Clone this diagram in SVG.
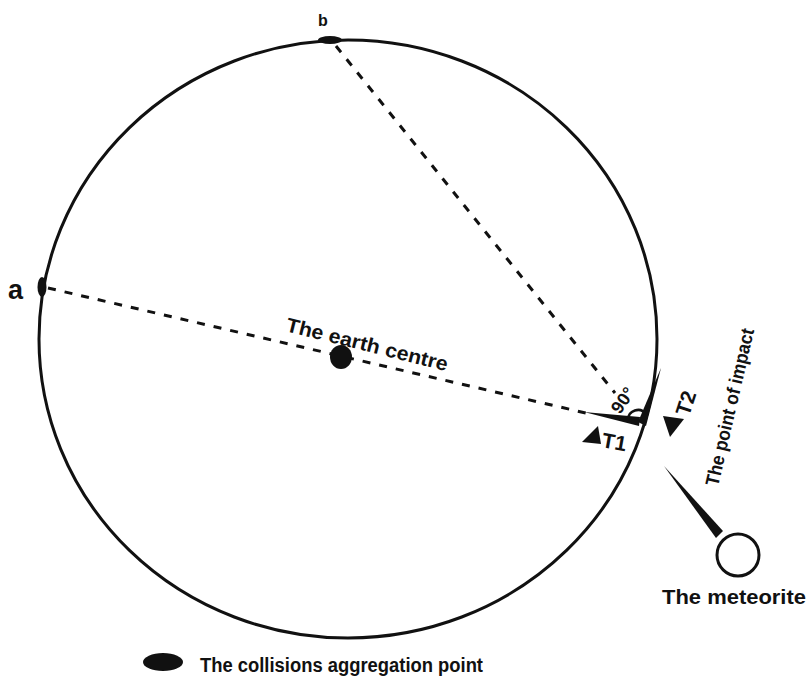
<svg xmlns="http://www.w3.org/2000/svg" width="807" height="679" viewBox="0 0 807 679">
<style>
text{font-family:"Liberation Sans",Arial,sans-serif;font-weight:bold;fill:#111}
.dash{stroke:#111;stroke-width:3;stroke-dasharray:8,9;fill:none}
.blk{fill:#111}
</style>
<rect width="807" height="679" fill="#fff"/>
<g id="earth">
<ellipse cx="348" cy="339" rx="309" ry="299" fill="none" stroke="#111" stroke-width="3"/>
</g>
<g id="connectors">
<line class="dash" x1="48" y1="288" x2="590" y2="414"/>
<line class="dash" x1="336" y1="46" x2="615" y2="393"/>
<polygon class="blk" points="584,412 640,417 639,426"/>
<polygon class="blk" points="661,368 646,426 638,422"/>
<path d="M628 420 A10 10 0 0 1 646 414" fill="none" stroke="#111" stroke-width="2.5"/>
<polygon class="blk" points="664,466 723,531 716,538"/>
</g>
<g id="point-a">
<ellipse cx="42" cy="287" rx="4.5" ry="10" class="blk"/>
<text x="8" y="299" font-size="27">a</text>
</g>
<g id="point-b">
<ellipse cx="330" cy="40" rx="12" ry="4" class="blk"/>
<text x="318" y="26" font-size="16">b</text>
</g>
<g id="earth-centre">
<ellipse cx="341" cy="357" rx="11" ry="12" class="blk"/>
<text x="285" y="331" font-size="20" textLength="166" lengthAdjust="spacingAndGlyphs" transform="rotate(14 285 331)">The earth centre</text>
</g>
<g id="angle">
<text x="620" y="415" font-size="18" transform="rotate(-55 620 415)">90°</text>
</g>
<g id="t1">
<polygon class="blk" points="582,442 598,426 601,444"/>
<text x="601" y="447" font-size="21" transform="rotate(10 601 447)">T1</text>
</g>
<g id="t2">
<polygon class="blk" points="663,416 684,419 670,437"/>
<text x="689" y="417" font-size="21" transform="rotate(-72 689 417)">T2</text>
</g>
<g id="impact">
<text x="718" y="487" font-size="19" textLength="161" lengthAdjust="spacingAndGlyphs" transform="rotate(-77 718 487)">The point of impact</text>
</g>
<g id="meteorite">
<circle cx="738" cy="555" r="21" fill="#fff" stroke="#111" stroke-width="3"/>
<text x="662" y="604" font-size="20" textLength="144" lengthAdjust="spacingAndGlyphs">The meteorite</text>
</g>
<g id="legend">
<ellipse cx="163" cy="662" rx="20" ry="9" class="blk"/>
<text x="200" y="672" font-size="20" textLength="283" lengthAdjust="spacingAndGlyphs">The collisions aggregation point</text>
</g>
</svg>
